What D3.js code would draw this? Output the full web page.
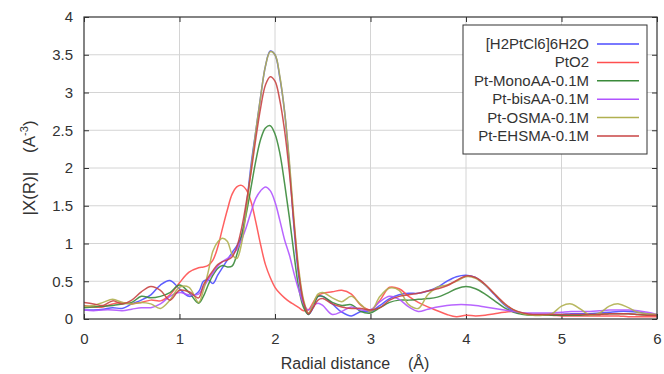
<!DOCTYPE html>
<html>
<head>
<meta charset="utf-8">
<script src="https://cdn.jsdelivr.net/npm/d3@7"></script>
<style>
  body { margin: 0; background: #fff; }
  svg { font-family: "Liberation Sans", Arial, sans-serif; }
</style>
</head>
<body>
<svg id="chart" width="664" height="374"></svg>
<script>
// radial distance grid (finer around the main peak)
const rValues = [0,0.1,0.2,0.3,0.4,0.5,0.6,0.7,0.8,0.9,1.0,1.1,1.2,
  1.25,1.3,1.35,1.4,1.45,1.5,1.55,1.6,1.65,1.7,1.75,1.8,1.85,1.9,1.95,2.0,
  2.05,2.1,2.15,2.2,2.25,2.3,2.35,2.4,2.45,2.5,
  2.6,2.7,2.8,2.9,3.0,3.1,3.2,3.3,3.4,3.5,3.6,3.7,3.8,3.9,4.0,4.1,4.2,4.3,
  4.4,4.5,4.6,4.7,4.8,4.9,5.0,5.1,5.2,5.3,5.4,5.5,5.6,5.7,5.8,5.9,6.0];

const seriesNames = ["[H2PtCl6]6H2O", "PtO2", "Pt-MonoAA-0.1M", "Pt-bisAA-0.1M", "Pt-OSMA-0.1M", "Pt-EHSMA-0.1M"];
const seriesColors = ["#4c4cff", "#ff4f4f", "#3a8a3a", "#b054ff", "#b0b050", "#c84444"];

const h2ptcl6 = [0.12,0.12,0.13,0.15,0.14,0.2,0.25,0.32,0.45,0.51,0.40,0.30,0.36,
  0.5,0.52,0.47,0.58,0.68,0.78,0.88,0.97,1.1,1.5,2.05,2.5,2.95,3.35,3.55,3.5,
  3.2,2.75,2.05,1.2,0.55,0.2,0.06,0.15,0.3,0.3,
  0.2,0.09,0.04,0.1,0.1,0.18,0.27,0.32,0.34,0.34,0.37,0.42,0.5,0.56,0.58,0.55,0.45,0.32,
  0.19,0.1,0.07,0.06,0.06,0.06,0.06,0.07,0.07,0.07,0.08,0.09,0.1,0.1,0.09,0.07,0.05];

const pto2 = [0.18,0.16,0.16,0.2,0.22,0.2,0.22,0.25,0.24,0.32,0.48,0.62,0.68,
  0.69,0.71,0.78,0.95,1.2,1.44,1.65,1.75,1.77,1.71,1.55,1.28,0.98,0.72,0.55,0.42,
  0.34,0.28,0.23,0.19,0.15,0.11,0.12,0.22,0.31,0.34,
  0.36,0.38,0.33,0.18,0.12,0.25,0.42,0.4,0.3,0.22,0.16,0.11,0.06,0.03,0.05,0.04,0.05,0.07,
  0.09,0.1,0.07,0.05,0.05,0.05,0.04,0.04,0.04,0.04,0.04,0.04,0.04,0.03,0.03,0.03,0.03];

const monoAA = [0.15,0.16,0.17,0.18,0.2,0.22,0.3,0.28,0.3,0.35,0.45,0.35,0.21,
  0.3,0.45,0.58,0.67,0.71,0.69,0.7,0.85,1.1,1.4,1.75,2.1,2.38,2.53,2.56,2.45,
  2.2,1.8,1.35,0.85,0.4,0.15,0.06,0.17,0.3,0.3,
  0.22,0.18,0.19,0.1,0.08,0.15,0.22,0.25,0.25,0.26,0.27,0.29,0.34,0.4,0.43,0.4,0.33,0.24,
  0.15,0.09,0.06,0.05,0.05,0.05,0.05,0.05,0.05,0.06,0.06,0.07,0.07,0.07,0.06,0.05,0.05];

const bisAA = [0.12,0.11,0.12,0.12,0.11,0.13,0.15,0.15,0.2,0.3,0.35,0.32,0.33,
  0.42,0.52,0.61,0.7,0.76,0.8,0.85,0.92,1.05,1.22,1.42,1.6,1.7,1.75,1.7,1.55,
  1.31,1.05,0.85,0.6,0.38,0.2,0.12,0.18,0.21,0.18,
  0.06,0.1,0.16,0.12,0.12,0.23,0.3,0.26,0.16,0.1,0.13,0.16,0.18,0.19,0.19,0.18,0.16,0.14,
  0.12,0.1,0.08,0.08,0.08,0.08,0.09,0.1,0.1,0.1,0.11,0.12,0.12,0.12,0.11,0.09,0.06];

const osma = [0.17,0.18,0.22,0.26,0.22,0.2,0.22,0.2,0.14,0.25,0.42,0.42,0.22,
  0.38,0.62,0.9,1.02,1.07,1.03,0.86,0.8,1.0,1.45,2.0,2.5,2.95,3.35,3.54,3.5,
  3.22,2.75,2.1,1.3,0.65,0.25,0.08,0.2,0.33,0.35,
  0.28,0.23,0.3,0.19,0.1,0.3,0.41,0.38,0.19,0.14,0.32,0.42,0.45,0.5,0.56,0.54,0.45,0.33,
  0.2,0.12,0.07,0.05,0.05,0.07,0.17,0.2,0.13,0.05,0.08,0.17,0.2,0.15,0.09,0.07,0.06];

const ehsma = [0.22,0.2,0.18,0.24,0.2,0.25,0.36,0.43,0.38,0.25,0.38,0.36,0.28,
  0.45,0.55,0.64,0.72,0.76,0.78,0.82,0.95,1.2,1.55,1.95,2.4,2.8,3.1,3.21,3.15,
  2.9,2.5,1.95,1.25,0.6,0.22,0.07,0.15,0.25,0.27,
  0.2,0.16,0.14,0.14,0.12,0.15,0.25,0.3,0.32,0.34,0.37,0.4,0.44,0.51,0.57,0.55,0.46,0.33,
  0.21,0.12,0.08,0.06,0.06,0.06,0.06,0.06,0.06,0.06,0.06,0.07,0.07,0.07,0.06,0.05,0.05];

const seriesValues = [h2ptcl6, pto2, monoAA, bisAA, osma, ehsma];
const xTicks = [0, 1, 2, 3, 4, 5, 6];
const yTicks = [0, 0.5, 1, 1.5, 2, 2.5, 3, 3.5, 4];

const margin = { left: 84, right: 7, top: 17, bottom: 55 };
const width = 664 - margin.left - margin.right;
const height = 374 - margin.top - margin.bottom;

const svg = d3.select("#chart");
const g = svg.append("g").attr("transform", "translate(" + margin.left + "," + margin.top + ")");

const x = d3.scaleLinear().domain([0, 6]).range([0, width]);
const y = d3.scaleLinear().domain([0, 4]).range([height, 0]);

// grid
g.append("g").selectAll("line").data(xTicks.slice(1, -1)).enter().append("line")
  .attr("x1", d => x(d)).attr("x2", d => x(d)).attr("y1", 0).attr("y2", height)
  .attr("stroke", "#d4d4d4").attr("stroke-width", 1);
g.append("g").selectAll("line").data(yTicks.slice(1, -1)).enter().append("line")
  .attr("y1", d => y(d)).attr("y2", d => y(d)).attr("x1", 0).attr("x2", width)
  .attr("stroke", "#d4d4d4").attr("stroke-width", 1);

// axes with inward ticks, mirrored
const styleAxis = sel => {
  sel.select(".domain").remove();
  sel.selectAll("line").attr("stroke", "#333");
  sel.selectAll("text").attr("fill", "#333").style("font-size", "15px")
    .style("font-family", "'Liberation Sans', Arial, sans-serif");
};
g.append("g").attr("transform", "translate(0," + height + ")")
  .call(d3.axisBottom(x).tickValues(xTicks).tickSize(-5).tickPadding(14).tickFormat(d3.format("d")))
  .call(styleAxis);
g.append("g")
  .call(d3.axisTop(x).tickValues(xTicks).tickSize(-5).tickFormat(""))
  .call(styleAxis);
g.append("g")
  .call(d3.axisLeft(y).tickValues(yTicks).tickSize(-5).tickPadding(11).tickFormat(d3.format("")))
  .call(styleAxis);
g.append("g").attr("transform", "translate(" + width + ",0)")
  .call(d3.axisRight(y).tickValues(yTicks).tickSize(-5).tickFormat(""))
  .call(styleAxis);

// clip
svg.append("defs").append("clipPath").attr("id", "clip")
  .append("rect").attr("width", width).attr("height", height);

const line = d3.line()
  .x((d, i) => x(rValues[i]))
  .y(d => y(d))
  .curve(d3.curveCatmullRom.alpha(0.5));

g.append("g").attr("clip-path", "url(#clip)")
  .selectAll("path").data(seriesValues).enter().append("path")
  .attr("d", d => line(d))
  .attr("fill", "none")
  .attr("stroke", (d, i) => seriesColors[i])
  .attr("stroke-width", 1.5)
  .attr("stroke-opacity", 0.9);

// frame
g.append("rect").attr("width", width).attr("height", height)
  .attr("fill", "none").attr("stroke", "#333").attr("stroke-width", 1.2);

// legend
const legend = g.append("g").attr("transform", "translate(" + (463 - margin.left) + "," + (25 - margin.top) + ")");
legend.append("rect").attr("width", 184).attr("height", 129)
  .attr("fill", "#fff").attr("stroke", "#333").attr("stroke-width", 1);
seriesNames.forEach((name, i) => {
  const cy = 19 + i * 18.4;
  legend.append("text").attr("x", 126).attr("y", cy + 5)
    .attr("text-anchor", "end").attr("fill", "#333").style("font-size", "15px")
    .text(name);
  legend.append("line").attr("x1", 134).attr("x2", 176).attr("y1", cy).attr("y2", cy)
    .attr("stroke", seriesColors[i]).attr("stroke-width", 1.5);
});

// axis titles
svg.append("text").attr("x", 355).attr("y", 369)
  .attr("text-anchor", "middle").attr("fill", "#333")
  .style("font-size", "16px").style("white-space", "pre")
  .text("Radial distance    (Å)");

const yt = svg.append("text").attr("transform", "translate(35,168) rotate(-90)")
  .attr("text-anchor", "middle").attr("fill", "#333")
  .style("font-size", "17px").style("white-space", "pre");
yt.append("tspan").text("|X(R)|    (A");
yt.append("tspan").attr("dy", -7).style("font-size", "11px").text("-3");
yt.append("tspan").attr("dy", 7).text(")");
</script>
</body>
</html>
